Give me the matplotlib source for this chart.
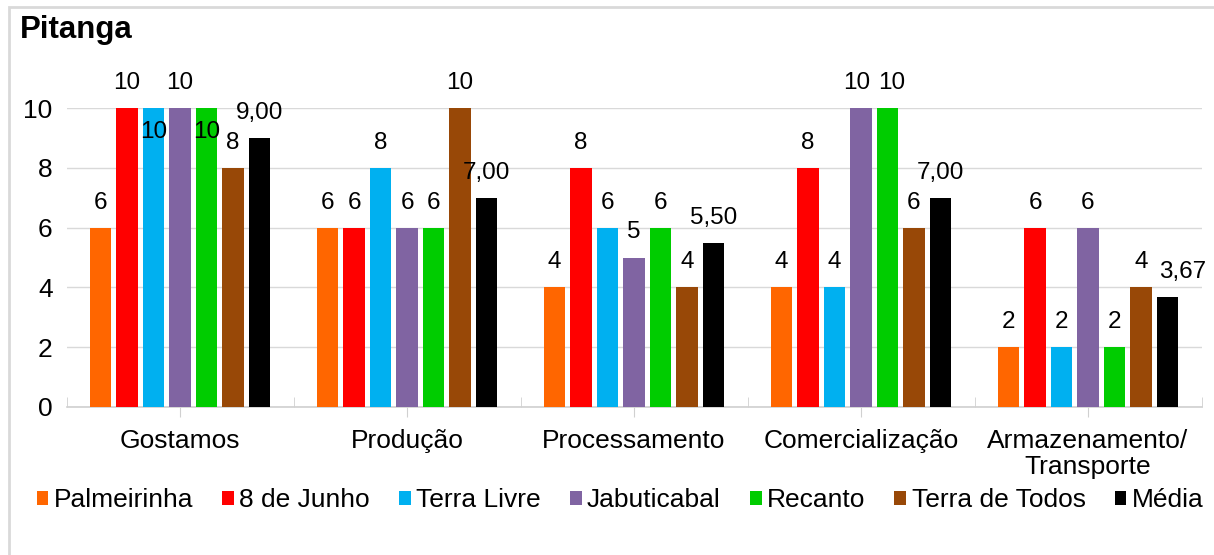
import numpy as np
import matplotlib
matplotlib.use("Agg")
import matplotlib.pyplot as plt
from matplotlib.patches import Rectangle

# ---- data ----
categories = ["Gostamos", "Produção", "Processamento", "Comercialização",
              "Armazenamento/\nTransporte"]
series_names = ["Palmeirinha", "8 de Junho", "Terra Livre", "Jabuticabal",
                "Recanto", "Terra de Todos", "Média"]
palmeirinha = [6, 6, 4, 4, 2]
oito_junho = [10, 6, 8, 8, 6]
terra_livre = [10, 8, 6, 4, 2]
jabuticabal = [10, 6, 5, 10, 6]
recanto = [10, 6, 6, 10, 2]
terra_todos = [8, 10, 4, 6, 4]
media = [9.00, 7.00, 5.50, 7.00, 3.67]
yticks = [0, 2, 4, 6, 8, 10]

series = [palmeirinha, oito_junho, terra_livre, jabuticabal, recanto,
          terra_todos, media]
colors = ["#FF6600", "#FF0000", "#00B0F0", "#8064A2", "#00CC00",
          "#984807", "#000000"]

plt.rcParams["font.family"] = ["Liberation Sans", "DejaVu Sans"]
FS = 19

W, H = 1214, 555
fig = plt.figure(figsize=(W / 100, H / 100), dpi=100)
ax = fig.add_axes([66.5 / W, 1 - 407 / H, (1201.5 - 66.5) / W, (407 - 108) / H])

x = np.arange(len(categories))
step = 0.1167
width = 0.0956
# label nudges Excel applied to avoid collisions: (series, category) -> (dx, dy) pt
nudge = {(2, 0): (0, -35), (4, 0): (0, -35),
         (3, 3): (-3, 0), (4, 3): (3, 0),
         (6, 4): (11, 0)}

handles = []
for i, (name, vals, col) in enumerate(zip(series_names, series, colors)):
    pos = x + (i - 3) * step
    b = ax.bar(pos, vals, width, color=col, label=name, zorder=3)
    handles.append(b)
    for j, (p, v) in enumerate(zip(pos, vals)):
        txt = f"{v:.2f}".replace(".", ",") if name == "Média" else f"{v:d}"
        dx, dy = nudge.get((i, j), (0, 0))
        ax.annotate(txt, (p, v), xytext=(dx, 18 + dy), textcoords="offset points",
                    ha="center", va="center", fontsize=17.5,
                    clip_on=False, zorder=4)

ax.set_xlim(-0.5, len(categories) - 0.5)
ax.set_ylim(0, 10)
ax.set_yticks(yticks)
ax.set_yticklabels([str(t) for t in yticks], fontsize=FS)
ax.tick_params(axis="y", length=0, pad=10)

ax.set_xticks(x)
ax.set_xticklabels(categories, fontsize=FS, linespacing=1.1)
ax.set_xticks(np.arange(len(categories) + 1) - 0.5, minor=True)
ax.tick_params(axis="x", which="major", direction="out", length=7,
               color="#d0d0d0", pad=9)
ax.tick_params(axis="x", which="minor", direction="in", length=7,
               color="#d0d0d0")

ax.grid(axis="y", color="#d9d9d9", linewidth=1, zorder=0)
for s in ["top", "right", "left"]:
    ax.spines[s].set_visible(False)
ax.spines["bottom"].set_color("#d0d0d0")
ax.spines["bottom"].set_linewidth(1.2)

fig.legend(handles=handles, labels=series_names, loc="center",
           bbox_to_anchor=(620 / W, 1 - 500 / H), ncol=7, frameon=False,
           fontsize=FS, handlelength=0.45, handleheight=0.45,
           handletextpad=0.2, columnspacing=1.1, borderaxespad=0)

fig.text(20 / W, 1 - 30 / H, "Pitanga", fontsize=22.5, fontweight="bold",
         ha="left", va="center")

# chart area border (only left and top visible in the crop)
fig.patches.append(Rectangle((9 / W, -0.2), 1.2, 1.2 - 7 / H,
                             transform=fig.transFigure, fill=False,
                             edgecolor="#d9d9d9", linewidth=2))

fig.savefig("out.png", dpi=100)
